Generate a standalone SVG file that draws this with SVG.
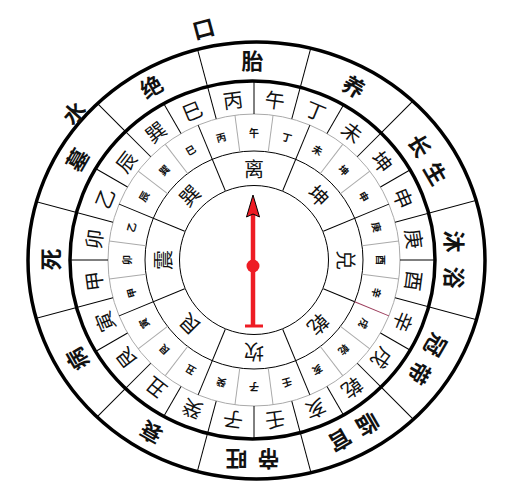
<svg xmlns="http://www.w3.org/2000/svg" width="510" height="504" viewBox="0 0 510 504">
<style>
text{font-family:"Noto Sans CJK SC","Noto Sans CJK JP",sans-serif;text-anchor:middle;dominant-baseline:central;fill:#111}
.o{font-size:22px;font-weight:bold}
.t4{font-size:20px}
.t3{font-size:10px;font-weight:bold}
.t2{font-size:20px}
.thin{stroke:#000;stroke-width:1;fill:none}
.gray{stroke:#aaa;stroke-width:1;fill:none}
.thick{stroke:#000;stroke-width:3.5;fill:none}
</style>
<defs>
<clipPath id="c5"><path clip-rule="evenodd" d="M28,260.5 a228.5,218.5 0 1 0 457,0 a228.5,218.5 0 1 0 -457,0 Z M70,260 a182.5,179 0 1 0 365,0 a182.5,179 0 1 0 -365,0 Z"/></clipPath>
<clipPath id="c4"><path d="M70,260 a182.5,179 0 1 0 365,0 a182.5,179 0 1 0 -365,0 Z"/></clipPath>
</defs>
<rect width="510" height="504" fill="#fff"/>
<g id="rings">
<ellipse class="thick" cx="256.5" cy="260.5" rx="228.5" ry="218.5"/>
<ellipse class="thick" cx="252.5" cy="260" rx="182.5" ry="179"/>
<circle class="gray" cx="254" cy="260" r="146"/>
<circle class="thin" cx="254" cy="260" r="109"/>
<circle class="thin" cx="254" cy="260" r="74.5"/>
</g>
<g id="connectors">
<g clip-path="url(#c5)" class="thin">
<line x1="254" y1="90" x2="254" y2="5" transform="rotate(15 254 260)"/>
<line x1="254" y1="90" x2="254" y2="5" transform="rotate(45 254 260)"/>
<line x1="254" y1="90" x2="254" y2="5" transform="rotate(75 254 260)"/>
<line x1="254" y1="90" x2="254" y2="5" transform="rotate(105 254 260)"/>
<line x1="254" y1="90" x2="254" y2="5" transform="rotate(135 254 260)"/>
<line x1="254" y1="90" x2="254" y2="5" transform="rotate(165 254 260)"/>
<line x1="254" y1="90" x2="254" y2="5" transform="rotate(195 254 260)"/>
<line x1="254" y1="90" x2="254" y2="5" transform="rotate(225 254 260)"/>
<line x1="254" y1="90" x2="254" y2="5" transform="rotate(255 254 260)"/>
<line x1="254" y1="90" x2="254" y2="5" transform="rotate(285 254 260)"/>
<line x1="254" y1="90" x2="254" y2="5" transform="rotate(315 254 260)"/>
<line x1="254" y1="90" x2="254" y2="5" transform="rotate(345 254 260)"/>
</g>
<g clip-path="url(#c4)" class="thin">
<line x1="254" y1="114" x2="254" y2="60"/>
<line x1="254" y1="114" x2="254" y2="60" transform="rotate(15 254 260)"/>
<line x1="254" y1="114" x2="254" y2="60" transform="rotate(30 254 260)"/>
<line x1="254" y1="114" x2="254" y2="60" transform="rotate(45 254 260)"/>
<line x1="254" y1="114" x2="254" y2="60" transform="rotate(60 254 260)"/>
<line x1="254" y1="114" x2="254" y2="60" transform="rotate(75 254 260)"/>
<line x1="254" y1="114" x2="254" y2="60" transform="rotate(90 254 260)"/>
<line x1="254" y1="114" x2="254" y2="60" transform="rotate(105 254 260)"/>
<line x1="254" y1="114" x2="254" y2="60" transform="rotate(120 254 260)"/>
<line x1="254" y1="114" x2="254" y2="60" transform="rotate(135 254 260)"/>
<line x1="254" y1="114" x2="254" y2="60" transform="rotate(150 254 260)"/>
<line x1="254" y1="114" x2="254" y2="60" transform="rotate(165 254 260)"/>
<line x1="254" y1="114" x2="254" y2="60" transform="rotate(180 254 260)"/>
<line x1="254" y1="114" x2="254" y2="60" transform="rotate(195 254 260)"/>
<line x1="254" y1="114" x2="254" y2="60" transform="rotate(210 254 260)"/>
<line x1="254" y1="114" x2="254" y2="60" transform="rotate(225 254 260)"/>
<line x1="254" y1="114" x2="254" y2="60" transform="rotate(240 254 260)"/>
<line x1="254" y1="114" x2="254" y2="60" transform="rotate(255 254 260)"/>
<line x1="254" y1="114" x2="254" y2="60" transform="rotate(270 254 260)"/>
<line x1="254" y1="114" x2="254" y2="60" transform="rotate(285 254 260)"/>
<line x1="254" y1="114" x2="254" y2="60" transform="rotate(300 254 260)"/>
<line x1="254" y1="114" x2="254" y2="60" transform="rotate(315 254 260)"/>
<line x1="254" y1="114" x2="254" y2="60" transform="rotate(330 254 260)"/>
<line x1="254" y1="114" x2="254" y2="60" transform="rotate(345 254 260)"/>
</g>
<g class="gray">
<line x1="254" y1="151" x2="254" y2="114" transform="rotate(7.5 254 260)"/>
<line x1="254" y1="151" x2="254" y2="114" transform="rotate(37.5 254 260)"/>
<line x1="254" y1="151" x2="254" y2="114" transform="rotate(52.5 254 260)"/>
<line x1="254" y1="151" x2="254" y2="114" transform="rotate(82.5 254 260)"/>
<line x1="254" y1="151" x2="254" y2="114" transform="rotate(97.5 254 260)"/>
<line x1="254" y1="151" x2="254" y2="114" transform="rotate(127.5 254 260)"/>
<line x1="254" y1="151" x2="254" y2="114" transform="rotate(142.5 254 260)"/>
<line x1="254" y1="151" x2="254" y2="114" transform="rotate(172.5 254 260)"/>
<line x1="254" y1="151" x2="254" y2="114" transform="rotate(187.5 254 260)"/>
<line x1="254" y1="151" x2="254" y2="114" transform="rotate(217.5 254 260)"/>
<line x1="254" y1="151" x2="254" y2="114" transform="rotate(232.5 254 260)"/>
<line x1="254" y1="151" x2="254" y2="114" transform="rotate(262.5 254 260)"/>
<line x1="254" y1="151" x2="254" y2="114" transform="rotate(277.5 254 260)"/>
<line x1="254" y1="151" x2="254" y2="114" transform="rotate(307.5 254 260)"/>
<line x1="254" y1="151" x2="254" y2="114" transform="rotate(322.5 254 260)"/>
<line x1="254" y1="151" x2="254" y2="114" transform="rotate(352.5 254 260)"/>
</g>
<g class="thin">
<line x1="254" y1="185" x2="254" y2="114" transform="rotate(22.5 254 260)"/>
<line x1="254" y1="185" x2="254" y2="114" transform="rotate(67.5 254 260)"/>
<line x1="254" y1="185" x2="254" y2="151" transform="rotate(112.5 254 260)"/>
<line x1="254" y1="151" x2="254" y2="114" transform="rotate(112.5 254 260)" stroke="#9b3b5a"/>
<line x1="254" y1="185" x2="254" y2="114" transform="rotate(157.5 254 260)"/>
<line x1="254" y1="185" x2="254" y2="114" transform="rotate(202.5 254 260)"/>
<line x1="254" y1="185" x2="254" y2="114" transform="rotate(247.5 254 260)"/>
<line x1="254" y1="185" x2="254" y2="114" transform="rotate(292.5 254 260)"/>
<line x1="254" y1="185" x2="254" y2="114" transform="rotate(337.5 254 260)"/>
</g>
</g>
<g id="ring5">
<text class="o" transform="translate(252.5,58.5)">胎</text>
<text class="o" transform="translate(354.5,85.4) rotate(30)">养</text>
<g transform="translate(429,159) rotate(60)"><text class="o" x="-16">长</text><text class="o" x="16">生</text></g>
<g transform="translate(456,259.5) rotate(90)"><text class="o" x="-18">沐</text><text class="o" x="18">浴</text></g>
<g transform="translate(429,360) rotate(120)"><text class="o" x="-16">冠</text><text class="o" x="16">带</text></g>
<g transform="translate(354.5,433.6) rotate(150)"><text class="o" x="-16">临</text><text class="o" x="16">官</text></g>
<g transform="translate(252.5,460.5) rotate(180)"><text class="o" x="-16">帝</text><text class="o" x="16">旺</text></g>
<text class="o" transform="translate(150.5,433.6) rotate(210)">衰</text>
<text class="o" transform="translate(76,360) rotate(240)">病</text>
<text class="o" transform="translate(48.5,259.5) rotate(270)">死</text>
<text class="o" transform="translate(76,159) rotate(300)">墓</text>
<text class="o" transform="translate(150.5,85.4) rotate(330)">绝</text>
</g>
<g id="shuikou">
<text class="o" transform="translate(73,112) rotate(-48)">水</text>
<text class="o" transform="translate(203,27) rotate(-15)">口</text>
</g>
<g id="ring4">
<text class="t4" x="254" y="98" transform="rotate(352.5 254 260)">丙</text>
<text class="t4" x="254" y="98" transform="rotate(7.5 254 260)">午</text>
<text class="t4" x="254" y="98" transform="rotate(22.5 254 260)">丁</text>
<text class="t4" x="254" y="98" transform="rotate(37.5 254 260)">未</text>
<text class="t4" x="254" y="98" transform="rotate(52.5 254 260)">坤</text>
<text class="t4" x="254" y="98" transform="rotate(67.5 254 260)">申</text>
<text class="t4" x="254" y="98" transform="rotate(82.5 254 260)">庚</text>
<text class="t4" x="254" y="98" transform="rotate(97.5 254 260)">酉</text>
<text class="t4" x="254" y="98" transform="rotate(112.5 254 260)">辛</text>
<text class="t4" x="254" y="98" transform="rotate(127.5 254 260)">戌</text>
<text class="t4" x="254" y="98" transform="rotate(142.5 254 260)">乾</text>
<text class="t4" x="254" y="98" transform="rotate(157.5 254 260)">亥</text>
<text class="t4" x="254" y="98" transform="rotate(172.5 254 260)">壬</text>
<text class="t4" x="254" y="98" transform="rotate(187.5 254 260)">子</text>
<text class="t4" x="254" y="98" transform="rotate(202.5 254 260)">癸</text>
<text class="t4" x="254" y="98" transform="rotate(217.5 254 260)">丑</text>
<text class="t4" x="254" y="98" transform="rotate(232.5 254 260)">艮</text>
<text class="t4" x="254" y="98" transform="rotate(247.5 254 260)">寅</text>
<text class="t4" x="254" y="98" transform="rotate(262.5 254 260)">甲</text>
<text class="t4" x="254" y="98" transform="rotate(277.5 254 260)">卯</text>
<text class="t4" x="254" y="98" transform="rotate(292.5 254 260)">乙</text>
<text class="t4" x="254" y="98" transform="rotate(307.5 254 260)">辰</text>
<text class="t4" x="254" y="98" transform="rotate(322.5 254 260)">巽</text>
<text class="t4" x="254" y="98" transform="rotate(337.5 254 260)">巳</text>
</g>
<g id="ring3">
<text class="t3" x="254" y="132.5">午</text>
<text class="t3" x="254" y="132.5" transform="rotate(15 254 260)">丁</text>
<text class="t3" x="254" y="132.5" transform="rotate(30 254 260)">未</text>
<text class="t3" x="254" y="132.5" transform="rotate(45 254 260)">坤</text>
<text class="t3" x="254" y="132.5" transform="rotate(60 254 260)">申</text>
<text class="t3" x="254" y="132.5" transform="rotate(75 254 260)">庚</text>
<text class="t3" x="254" y="132.5" transform="rotate(90 254 260)">酉</text>
<text class="t3" x="254" y="132.5" transform="rotate(105 254 260)">辛</text>
<text class="t3" x="254" y="132.5" transform="rotate(120 254 260)">戌</text>
<text class="t3" x="254" y="132.5" transform="rotate(135 254 260)">乾</text>
<text class="t3" x="254" y="132.5" transform="rotate(150 254 260)">亥</text>
<text class="t3" x="254" y="132.5" transform="rotate(165 254 260)">壬</text>
<text class="t3" x="254" y="132.5" transform="rotate(180 254 260)">子</text>
<text class="t3" x="254" y="132.5" transform="rotate(195 254 260)">癸</text>
<text class="t3" x="254" y="132.5" transform="rotate(210 254 260)">丑</text>
<text class="t3" x="254" y="132.5" transform="rotate(225 254 260)">艮</text>
<text class="t3" x="254" y="132.5" transform="rotate(240 254 260)">寅</text>
<text class="t3" x="254" y="132.5" transform="rotate(255 254 260)">甲</text>
<text class="t3" x="254" y="132.5" transform="rotate(270 254 260)">卯</text>
<text class="t3" x="254" y="132.5" transform="rotate(285 254 260)">乙</text>
<text class="t3" x="254" y="132.5" transform="rotate(300 254 260)">辰</text>
<text class="t3" x="254" y="132.5" transform="rotate(315 254 260)">巽</text>
<text class="t3" x="254" y="132.5" transform="rotate(330 254 260)">巳</text>
<text class="t3" x="254" y="132.5" transform="rotate(345 254 260)">丙</text>
</g>
<g id="ring2">
<text class="t2" x="254" y="168">离</text>
<text class="t2" x="254" y="168" transform="rotate(45 254 260)">坤</text>
<text class="t2" x="254" y="168" transform="rotate(90 254 260)">兑</text>
<text class="t2" x="254" y="168" transform="rotate(135 254 260)">乾</text>
<text class="t2" x="254" y="168" transform="rotate(180 254 260)">坎</text>
<text class="t2" x="254" y="168" transform="rotate(225 254 260)">艮</text>
<text class="t2" x="254" y="168" transform="rotate(270 254 260)">震</text>
<text class="t2" x="254" y="168" transform="rotate(315 254 260)">巽</text>
</g>
<g id="needle">
<line x1="253" y1="214" x2="253" y2="326" stroke="#ee1c24" stroke-width="4.5"/>
<line x1="245" y1="326" x2="263" y2="326" stroke="#ee1c24" stroke-width="3"/>
<circle cx="253" cy="266" r="6.5" fill="#ee1c24"/>
<polygon points="253,195 259.5,217 253,214 246.5,217" fill="#ee1c24" stroke="#000" stroke-width="1"/>
</g>
</svg>
